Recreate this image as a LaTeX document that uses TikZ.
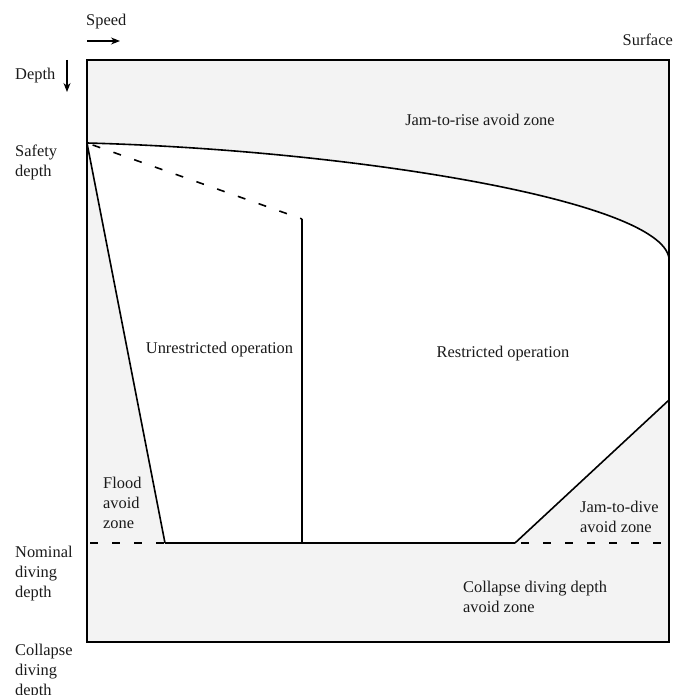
\documentclass[tikz,border=0pt]{standalone}
\usepackage{fontspec}
\setmainfont{Liberation Serif}
\usetikzlibrary{arrows.meta}
\definecolor{zonegray}{HTML}{F3F3F3}
\definecolor{inkcol}{HTML}{1A1A1A}
\newcommand{\mlines}[1]{\begin{tabular}[t]{@{}l@{}}#1\end{tabular}}
\begin{document}
\begin{tikzpicture}[x=1pt,y=-1pt,
  lbl/.style={anchor=base west, inner sep=0pt, text=inkcol, font=\fontsize{16.4}{20}\selectfont},
  clbl/.style={anchor=base, inner sep=0pt, text=inkcol, font=\fontsize{16.4}{20}\selectfont},
  border/.style={line width=1.6pt, black},
  bound/.style={line width=1.6pt, black},
  dashbound/.style={line width=1.6pt, black, dash pattern=on 8pt off 14pt},
  axisarrow/.style={line width=1.1pt, black, -{Stealth[length=9pt,width=7pt]}}]
\useasboundingbox (0,0) rectangle (686,695);
% named points
\coordinate (TL) at (87,60);
\coordinate (BR) at (669,642);
\coordinate (S) at (87,143);
\coordinate (R) at (669,258);
\coordinate (D) at (302,219);
\coordinate (V) at (302,543);
\coordinate (F) at (165,543);
\coordinate (J) at (515,543);
\coordinate (Jt) at (669,400);
\coordinate (NL) at (87,543);
\coordinate (NR) at (669,543);
\coordinate (sp1) at (87,41);
\coordinate (sp2) at (120,41);
\coordinate (dp1) at (67,60);
\coordinate (dp2) at (67,92);
% fills
\fill[zonegray] (TL) rectangle (BR);
\fill[white] (S) .. controls (350,150) and (660,200) .. (R) -- (Jt) -- (J) -- (F) -- cycle;
% boundaries
\draw[bound] (S) .. controls (350,150) and (660,200) .. (R);
\draw[dashbound, dash phase=-6pt] (S) -- (D);
\draw[bound] (D) -- (V);
\draw[bound] (S) -- (F);
\draw[bound] (F) -- (J);
\draw[bound] (J) -- (Jt);
\draw[dashbound, dash phase=-3pt] (NL) -- (F);
\draw[dashbound, dash phase=-6pt] (J) -- (NR);
\draw[border] (TL) rectangle (BR);
% axis arrows
\draw[axisarrow] (sp1) -- (sp2);
\draw[axisarrow] (dp1) -- (dp2);
% labels
\node[lbl] (speed) at (86,26) {Speed};
\node[lbl] (depth) at (15,80) {Depth};
\node[lbl, anchor=base east] (surface) at (673,46) {Surface};
\node[lbl] (safety) at (15,157) {\mlines{Safety\\depth}};
\node[clbl] (jrise) at (480,126) {Jam-to-rise avoid zone};
\node[clbl] (unres) at (219.5,353) {Unrestricted operation};
\node[clbl] (res) at (503,357) {Restricted operation};
\node[lbl] (flood) at (103,488) {\mlines{Flood\\avoid\\zone}};
\node[lbl] (nominal) at (15,557) {\mlines{Nominal\\diving\\depth}};
\node[lbl] (jdive) at (580,512) {\mlines{Jam-to-dive\\avoid zone}};
\node[lbl] (collzone) at (463,592) {\mlines{Collapse diving depth\\avoid zone}};
\node[lbl] (collapse) at (15,655) {\mlines{Collapse\\diving\\depth}};
\end{tikzpicture}
\end{document}
